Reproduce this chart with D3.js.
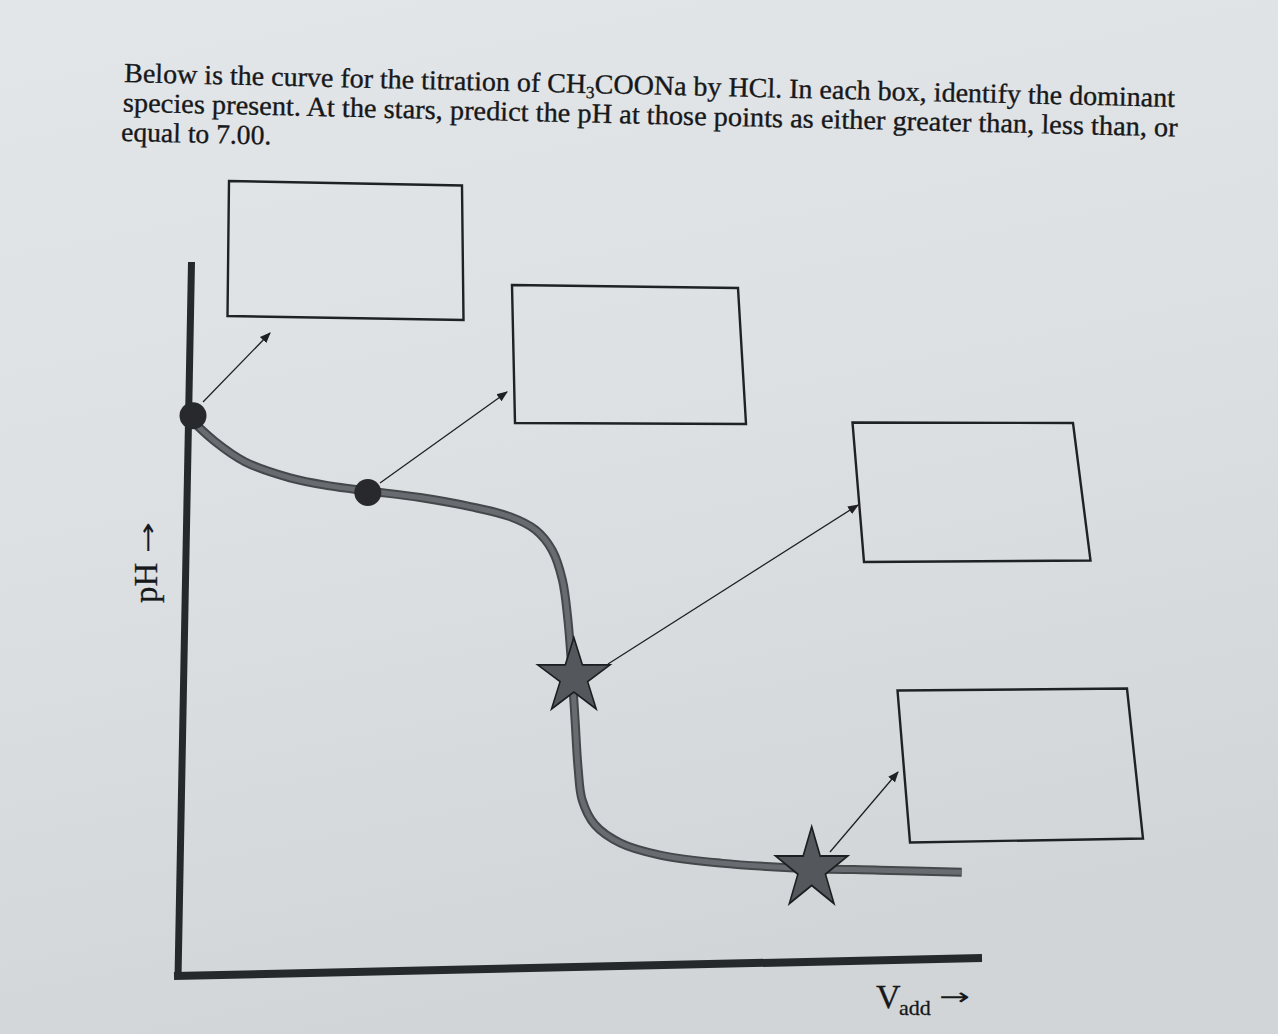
<!DOCTYPE html>
<html><head><meta charset="utf-8">
<script src="https://cdn.jsdelivr.net/npm/d3@7"></script>
<style>html,body{margin:0;padding:0;background:#dde1e4;}svg{display:block;}</style>
</head><body>
<svg id="c" width="1278" height="1034"></svg>
<script>
// ---- data ----
const volumes = [0, 3.65, 7.4, 13.1, 18.1, 22.9, 29.5, 35.8, 40.8, 44, 46.1, 47.4, 48.1, 48.6, 49, 49.4, 49.9, 51.5, 54.7, 59.7, 67.3, 77.3, 87.4, 97.7];
const phValues = [10.97, 10.44, 10.04, 9.72, 9.56, 9.46, 9.33, 9.15, 8.95, 8.69, 8.29, 7.70, 6.90, 5.91, 4.92, 3.93, 3.33, 2.84, 2.48, 2.24, 2.08, 1.98, 1.94, 1.90];
const dotVolumes = [0, 22.9];
const dotPH = [10.95, 9.43];
const starVolumes = [48.85, 78.8];
const starPH = [5.77, 1.96];
const questionLines = [
  "Below is the curve for the titration of CH|3|COONa by HCl. In each box, identify the dominant",
  "species present. At the stars, predict the pH at those points as either greater than, less than, or",
  "equal to 7.00."
];
const yLabel = "pH";
const xLabel = ["V", "add"];
const arrowGlyph = "\u2192";

// ---- layout ----
const svg = d3.select("#c");
const W = 1278, H = 1034;
const x = d3.scaleLinear().domain([0, 100]).range([186, 980]);
const y = d3.scaleLinear().domain([0, 14]).range([968, 262]);
const serif = "'Liberation Serif','Times New Roman',serif";
const ink = "#17181a";

const defs = svg.append("defs");
const g = defs.append("linearGradient").attr("id", "bg").attr("x1", "0.1").attr("y1", "0").attr("x2", "0.35").attr("y2", "1");
g.append("stop").attr("offset", "0").attr("stop-color", "#e3e6e9");
g.append("stop").attr("offset", "0.5").attr("stop-color", "#dce0e3");
g.append("stop").attr("offset", "1").attr("stop-color", "#d1d5d8");
defs.append("marker").attr("id", "ah").attr("viewBox", "0 0 10 10").attr("refX", 9).attr("refY", 5)
  .attr("markerWidth", 11).attr("markerHeight", 11).attr("markerUnits", "userSpaceOnUse").attr("orient", "auto")
  .append("path").attr("d", "M0,1 L10,5 L0,9 Z").attr("fill", "#1e2022");

svg.append("rect").attr("width", W).attr("height", H).attr("fill", "url(#bg)");

// question text
const tg = svg.append("g").attr("transform", "rotate(1.36,124,82)");
const lineLens = [1051, 1055, 150];
const lineX = [124, 123.5, 122.5];
questionLines.forEach((ln, i) => {
  const t = tg.append("text").attr("x", lineX[i]).attr("y", 82 + i * 29.5)
    .attr("font-family", serif).attr("font-size", 27.5).attr("fill", ink)
    .attr("stroke", ink).attr("stroke-width", 0.35)
    .attr("textLength", lineLens[i]).attr("lengthAdjust", "spacingAndGlyphs");
  ln.split("|").forEach((p, j) => {
    if (j === 1) t.append("tspan").attr("font-size", 17).attr("dy", 5).text(p);
    else if (j === 2) t.append("tspan").attr("dy", -5).text(p);
    else t.append("tspan").text(p);
  });
});

// boxes (corners as photographed)
const boxes = [
  [[229, 181], [462, 185.5], [463.5, 320], [227.5, 316]],
  [[512, 285], [738, 288], [746, 424], [515, 423]],
  [[852.5, 422.5], [1073, 423], [1090.5, 560.5], [864, 562]],
  [[897.5, 690.5], [1127, 688.5], [1143, 838.5], [910, 842.5]]
];
svg.selectAll("path.box").data(boxes).enter().append("path").attr("class", "box")
  .attr("d", d => "M" + d.map(p => p.join(",")).join("L") + "Z")
  .attr("fill", "none").attr("stroke", "#1f2123").attr("stroke-width", 2.4);

// arrows
const arrows = [
  [[203, 402], [270, 333]],
  [[380, 483], [507, 392]],
  [[608, 664], [858, 505]],
  [[830, 852], [898, 772]]
];
svg.selectAll("line.arr").data(arrows).enter().append("line").attr("class", "arr")
  .attr("x1", d => d[0][0]).attr("y1", d => d[0][1]).attr("x2", d => d[1][0]).attr("y2", d => d[1][1])
  .attr("stroke", "#1e2022").attr("stroke-width", 1.3).attr("marker-end", "url(#ah)");

// axes (slight photographic tilt)
svg.append("line").attr("x1", x(0) + 5.5).attr("x2", x(0) - 8).attr("y1", y(14)).attr("y2", y(0) + 10)
  .attr("stroke", "#26292c").attr("stroke-width", 7);
svg.append("line").attr("x1", x(0) - 12).attr("x2", x(100) + 2).attr("y1", y(0) + 8).attr("y2", y(0) - 10)
  .attr("stroke", "#26292c").attr("stroke-width", 8);

// curve
const pts = volumes.map((v, i) => [v, phValues[i]]);
const line = d3.line().x(d => x(d[0])).y(d => y(d[1])).curve(d3.curveCatmullRom.alpha(0.5));
svg.append("path").attr("d", line(pts)).attr("fill", "none").attr("stroke", "#45484b").attr("stroke-width", 9);
svg.append("path").attr("d", line(pts)).attr("fill", "none").attr("stroke", "#686b6f").attr("stroke-width", 5);

// dots
svg.selectAll("circle.pt").data(dotVolumes.map((v, i) => [v, dotPH[i]])).enter().append("circle")
  .attr("cx", d => x(d[0]) + (d[0] === 0 ? 7 : 0)).attr("cy", d => y(d[1])).attr("r", 13.5).attr("fill", "#27292c");

// stars
const star = d3.symbol().type(d3.symbolStar).size(1620);
const stretch = [1.04, 1.12];
svg.selectAll("path.star").data(starVolumes.map((v, i) => [v, starPH[i], stretch[i]])).enter().append("path")
  .attr("transform", d => `translate(${x(d[0])},${y(d[1])}) scale(1,${d[2]})`).attr("d", star)
  .attr("fill", "#54575b").attr("stroke", "#1c1e20").attr("stroke-width", 1.6);

// axis labels
svg.append("text").attr("transform", "translate(157,603) rotate(-90)")
  .attr("font-family", serif).attr("font-size", 33).attr("fill", ink).attr("stroke", ink).attr("stroke-width", 0.3)
  .text(yLabel);
svg.append("text").attr("transform", "translate(156,553) rotate(-90)")
  .attr("font-family", "'DejaVu Sans',sans-serif").attr("font-size", 24).attr("fill", ink)
  .attr("textLength", 31).attr("lengthAdjust", "spacingAndGlyphs").text(arrowGlyph);

const xl = svg.append("text").attr("x", 876).attr("y", 1008)
  .attr("font-family", serif).attr("font-size", 34).attr("fill", ink).attr("stroke", ink).attr("stroke-width", 0.3);
xl.append("tspan").text(xLabel[0]);
xl.append("tspan").attr("font-size", 22).attr("dy", 7).attr("dx", -1.5).text(xLabel[1]);
svg.append("text").attr("x", 939).attr("y", 1005)
  .attr("font-family", "'DejaVu Sans',sans-serif").attr("font-size", 24).attr("fill", ink)
  .attr("textLength", 31).attr("lengthAdjust", "spacingAndGlyphs").text(arrowGlyph);
</script>
</body></html>
